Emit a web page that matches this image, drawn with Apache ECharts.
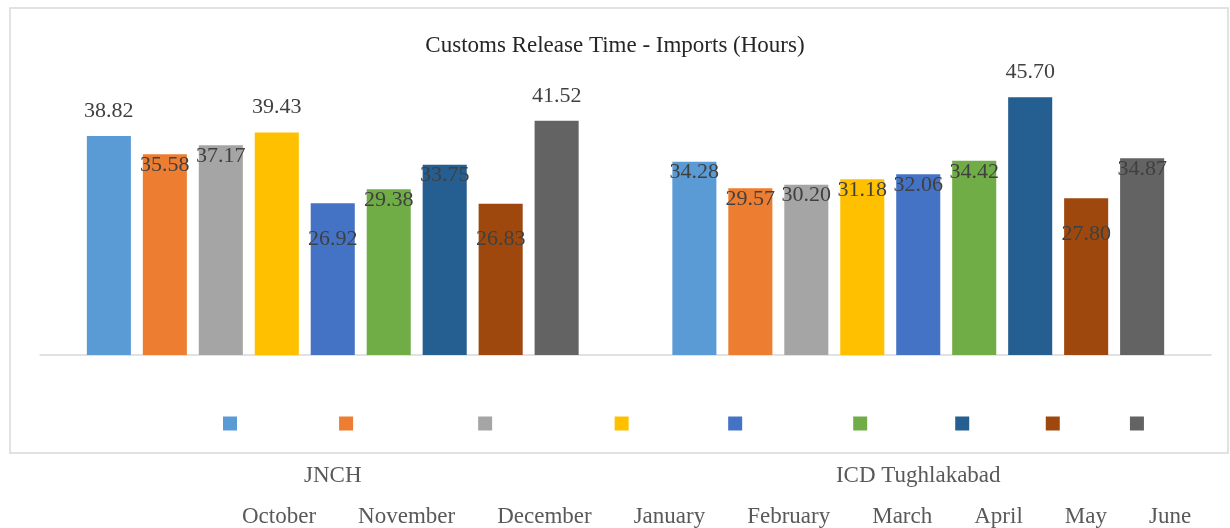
<!DOCTYPE html>
<html style="height:100%;">
<head>
    <meta charset="utf-8">
    <title>Customs Release Time - Imports (Hours)</title>
    <script src="https://cdn.jsdelivr.net/npm/echarts@6/dist/echarts.min.js"></script>
</head>
<body style="height: 100%; margin: 0;">
    <div id="main" style="width: 1230px; height: 528px;"></div>
    <script type="text/javascript">
    // data
    var ports = ['JNCH', 'ICD Tughlakabad'];
    var months = ['October', 'November', 'December', 'January', 'February', 'March', 'April', 'May', 'June'];
    var october = [38.82, 34.28];
    var november = [35.58, 29.57];
    var december = [37.17, 30.20];
    var january = [39.43, 31.18];
    var february = [26.92, 32.06];
    var march = [29.38, 34.42];
    var april = [33.75, 45.70];
    var may = [26.83, 27.80];
    var june = [41.52, 34.87];
    var values = [october, november, december, january, february, march, april, may, june];

    // styling
    var colors = ['#5B9BD5', '#ED7D31', '#A5A5A5', '#FFC000', '#4472C4', '#70AD47', '#255E91', '#9E480E', '#636363'];
    // where the source put each data label: 'top' above the bar, 'in' just inside, 'low' further down
    var labelPlace = [
        ['top', 'in'], ['in', 'in'], ['in', 'in'], ['top', 'in'], ['low', 'in'],
        ['in', 'in'], ['in', 'top'], ['low', 'low'], ['top', 'in']
    ];
    var font = '"Liberation Serif", "DejaVu Serif", serif';

    function labelFor(p) {
        if (p === 'top') return { position: 'top', distance: 14 };
        if (p === 'in') return { position: 'insideTop', distance: 0 };
        return { position: 'insideTop', distance: 25 };
    }

    var series = months.map(function (m, i) {
        return {
            name: m,
            type: 'bar',
            barGap: '27%',
            barCategoryGap: '16%',
            itemStyle: { color: colors[i] },
            label: {
                show: true,
                fontFamily: font,
                fontSize: 22,
                color: '#404040',
                formatter: function (p) { return p.value.toFixed(2); }
            },
            data: values[i].map(function (v, j) {
                return { value: v, label: labelFor(labelPlace[i][j]) };
            })
        };
    });

    var myChart = echarts.init(document.getElementById('main'));
    myChart.setOption({
        backgroundColor: '#ffffff',
        animation: false,
        title: {
            text: 'Customs Release Time - Imports (Hours)',
            left: 'center',
            top: 29,
            textStyle: { fontFamily: font, fontSize: 23, fontWeight: 'normal', color: '#262626' }
        },
        graphic: [{
            type: 'rect',
            shape: { x: 10, y: 8, width: 1218, height: 445 },
            style: { fill: 'none', stroke: '#d9d9d9', lineWidth: 1.5 },
            z: -1
        }],
        legend: [{
            data: months,
            left: 218,
            top: 407,
            itemWidth: 14,
            itemHeight: 14,
            itemGap: 23,
            icon: 'rect',
            textStyle: { fontFamily: font, fontSize: 23, lineHeight: 20, color: 'rgba(0,0,0,0)' },
            selectedMode: false
        }, {
            data: months,
            left: 218,
            top: 500,
            itemWidth: 14,
            itemHeight: 14,
            itemGap: 23,
            icon: 'rect',
            itemStyle: { opacity: 0 },
            textStyle: { fontFamily: font, fontSize: 23, lineHeight: 20, color: '#595959' },
            selectedMode: false
        }],
        grid: { left: 40, right: 19, top: 73, bottom: 173 },
        xAxis: {
            type: 'category',
            data: ports,
            axisLine: { lineStyle: { color: '#d9d9d9', width: 1.5 } },
            axisTick: { show: false },
            axisLabel: { margin: 109, fontFamily: font, fontSize: 23, color: '#595959' }
        },
        yAxis: {
            type: 'value',
            min: 0,
            max: 50,
            show: false,
            splitLine: { show: false }
        },
        series: series
    });
    </script>
</body>
</html>
